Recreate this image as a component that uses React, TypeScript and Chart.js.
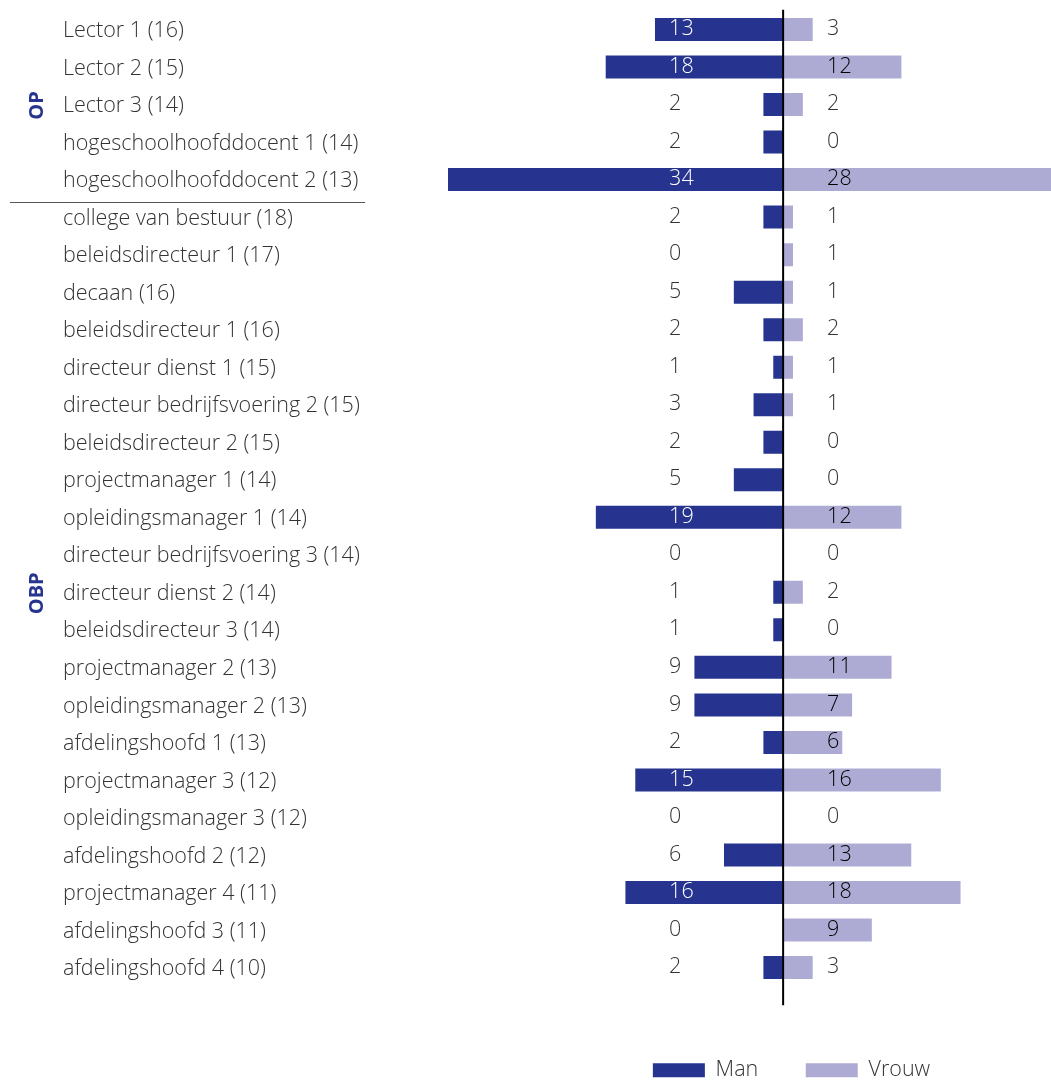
import React, { useEffect, useRef } from 'react';
import { Chart, registerables } from 'chart.js';

Chart.register(...registerables);

const categories = [
  'Lector 1 (16)',
  'Lector 2 (15)',
  'Lector 3 (14)',
  'hogeschoolhoofddocent 1 (14)',
  'hogeschoolhoofddocent 2 (13)',
  'college van bestuur (18)',
  'beleidsdirecteur 1 (17)',
  'decaan (16)',
  'beleidsdirecteur 1 (16)',
  'directeur dienst 1 (15)',
  'directeur bedrijfsvoering 2 (15)',
  'beleidsdirecteur 2 (15)',
  'projectmanager 1 (14)',
  'opleidingsmanager 1 (14)',
  'directeur bedrijfsvoering 3 (14)',
  'directeur dienst 2 (14)',
  'beleidsdirecteur 3 (14)',
  'projectmanager 2 (13)',
  'opleidingsmanager 2 (13)',
  'afdelingshoofd 1 (13)',
  'projectmanager 3 (12)',
  'opleidingsmanager 3 (12)',
  'afdelingshoofd 2 (12)',
  'projectmanager 4 (11)',
  'afdelingshoofd 3 (11)',
  'afdelingshoofd 4 (10)',
];

const manValues = [13, 18, 2, 2, 34, 2, 0, 5, 2, 1, 3, 2, 5, 19, 0, 1, 1, 9, 9, 2, 15, 0, 6, 16, 0, 2];
const vrouwValues = [3, 12, 2, 0, 28, 1, 1, 1, 2, 1, 1, 0, 0, 12, 0, 2, 0, 11, 7, 6, 16, 0, 13, 18, 9, 3];

const groupNames = ['OP', 'OBP'];
const groupFirst = [0, 5];
const groupLast = [4, 25];

const FONT = '"Open Sans", sans-serif';
const MAN_COLOR = '#26348f';
const VROUW_COLOR = '#adabd4';
const TEXT_COLOR = '#333333';

const overlayPlugin = {
  id: 'overlay',
  afterDatasetsDraw(chart: any) {
    const { ctx, chartArea } = chart;
    const xs = chart.scales.x;
    const ys = chart.scales.y;
    const x0 = xs.getPixelForValue(0);
    ctx.save();
    // value labels
    ctx.font = `300 21.5px ${FONT}`;
    ctx.textAlign = 'left';
    ctx.textBaseline = 'middle';
    for (let i = 0; i < categories.length; i++) {
      const y = ys.getPixelForValue(i) - 0.5;
      const mText = String(manValues[i]);
      const mx = x0 - 114;
      const mEnd = xs.getPixelForValue(-manValues[i]);
      ctx.fillStyle = mEnd < mx - 2 ? '#ffffff' : TEXT_COLOR;
      ctx.fillText(mText, mx, y);
      const vText = String(vrouwValues[i]);
      const vx = x0 + 44;
      const vEnd = xs.getPixelForValue(vrouwValues[i]);
      const w = ctx.measureText(vText).width;
      ctx.fillStyle = vEnd > vx + w ? '#000000' : TEXT_COLOR;
      ctx.fillText(vText, vx, y);
    }
    // centre line
    ctx.strokeStyle = '#000000';
    ctx.lineWidth = 2;
    ctx.beginPath();
    ctx.moveTo(x0, chartArea.top - 1);
    ctx.lineTo(x0, chartArea.bottom + 19);
    ctx.stroke();
    // group labels
    ctx.font = `700 20px ${FONT}`;
    ctx.fillStyle = MAN_COLOR;
    ctx.textAlign = 'center';
    for (let g = 0; g < groupNames.length; g++) {
      const yc = (ys.getPixelForValue(groupFirst[g]) + ys.getPixelForValue(groupLast[g])) / 2;
      ctx.save();
      ctx.translate(37, yc + 1);
      ctx.rotate(-Math.PI / 2);
      ctx.fillText(groupNames[g], 0, 0);
      ctx.restore();
    }
    // separator
    const sy = Math.round(ys.getPixelForValue(groupLast[0] + 0.5) + 4) + 0.5;
    ctx.strokeStyle = '#555555';
    ctx.lineWidth = 1;
    ctx.beginPath();
    ctx.moveTo(10, sy);
    ctx.lineTo(365, sy);
    ctx.stroke();
    ctx.restore();
  },
};

export default function App() {
  const ref = useRef<HTMLCanvasElement>(null);
  useEffect(() => {
    if (!ref.current) return;
    const chart = new Chart(ref.current, {
      type: 'bar',
      data: {
        labels: categories,
        datasets: [
          {
            label: 'Man',
            data: manValues.map((v) => -v),
            backgroundColor: MAN_COLOR,
            borderWidth: 0,
            barPercentage: 0.613,
            categoryPercentage: 1,
          },
          {
            label: 'Vrouw',
            data: vrouwValues,
            backgroundColor: VROUW_COLOR,
            borderWidth: 0,
            barPercentage: 0.613,
            categoryPercentage: 1,
          },
        ],
      },
      options: {
        indexAxis: 'y',
        responsive: false,
        animation: false,
        devicePixelRatio: 1,
        layout: { padding: { left: 63, top: 10.74, right: 0, bottom: 0 } },
        scales: {
          x: { display: false, stacked: true, min: -34, max: 35.7 },
          y: {
            stacked: true,
            position: 'left',
            grid: { display: false },
            border: { display: false },
            ticks: {
              crossAlign: 'far',
              padding: 0,
              labelOffset: 1.5,
              autoSkip: false,
              color: TEXT_COLOR,
              font: { family: FONT, size: 21.5, weight: '300', lineHeight: 0.9 },
            },
            afterFit: (s: any) => {
              s.width = 385;
            },
          },
        },
        plugins: {
          legend: {
            position: 'bottom',
            fullSize: false,
            labels: {
              boxWidth: 52,
              boxHeight: 14,
              padding: 47.5,
              color: TEXT_COLOR,
              font: { family: FONT, size: 21.5, weight: '300' },
            },
            title: {
              display: true,
              text: '',
              padding: { top: 11.3, bottom: 0 },
              font: { size: 12, lineHeight: 1.2 },
            },
          },
          tooltip: { enabled: false },
        },
      } as any,
      plugins: [overlayPlugin],
    });
    return () => chart.destroy();
  }, []);
  return (
    <div style={{ position: 'absolute', left: 0, top: 0, width: 1051, height: 1082, overflow: 'hidden', background: '#ffffff' }}>
      <canvas ref={ref} width={1135} height={1091} style={{ display: 'block' }} />
    </div>
  );
}
